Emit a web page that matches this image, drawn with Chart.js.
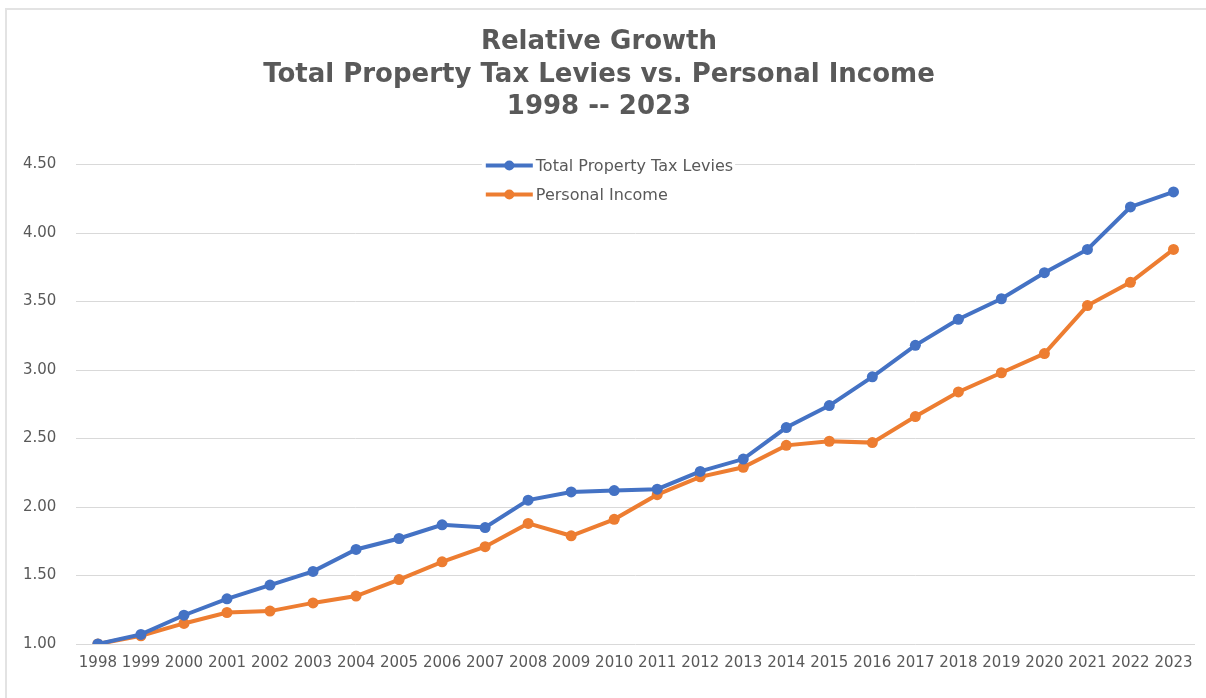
<!DOCTYPE html>
<html>
<head>
<meta charset="utf-8">
<script src="https://cdn.jsdelivr.net/npm/chart.js@4.4.1/dist/chart.umd.min.js"></script>
<style>
  html, body { margin: 0; padding: 0; background: #fff; overflow: hidden; }
  #frame { position: absolute; left: 5px; top: 8px; width: 1300px; height: 800px; border-left: 2px solid #e3e3e3; border-top: 2px solid #e3e3e3; }
  #graph { position: absolute; left: 0; top: 0; }
</style>
</head>
<body>
<div id="frame"></div>
<canvas id="graph" width="1206" height="698"></canvas>
<script>
var years = ['1998','1999','2000','2001','2002','2003','2004','2005','2006','2007','2008','2009','2010',
             '2011','2012','2013','2014','2015','2016','2017','2018','2019','2020','2021','2022','2023']
var propertyTax = [1.00,1.07,1.21,1.33,1.43,1.53,1.69,1.77,1.87,1.85,2.05,2.11,2.12,
                   2.13,2.26,2.35,2.58,2.74,2.95,3.18,3.37,3.52,3.71,3.88,4.19,4.30]
var personalIncome = [1.00,1.06,1.15,1.23,1.24,1.30,1.35,1.47,1.60,1.71,1.88,1.79,1.91,
                      2.09,2.22,2.29,2.45,2.48,2.47,2.66,2.84,2.98,3.12,3.47,3.64,3.88]
var yMin = 1.0, yMax = 4.5, yStep = 0.5
var titleLines = ['Relative Growth', 'Total Property Tax Levies vs. Personal Income', '1998 -- 2023']

var blue = '#4472C4'
var orange = '#ED7D31'
var gray = '#595959'

// legend drawn as a small vertical box inside the plot, line + dot like the Excel one
var boxLegend = {
  id: 'boxLegend',
  afterDatasetsDraw(chart) {
    var ctx = chart.ctx
    var area = chart.chartArea
    var x = area.left + (area.right - area.left) * 0.366
    var y = area.top + 1
    ctx.save()
    ctx.font = '16px "DejaVu Sans"'
    ctx.textBaseline = 'middle'
    chart.data.datasets.forEach(function(ds, i) {
      var rowY = y + i * 29
      var w = ctx.measureText(ds.label).width
      ctx.fillStyle = '#fff'
      ctx.fillRect(x - 4, rowY - 9, 56 + w, 18)
      ctx.strokeStyle = ds.borderColor
      ctx.lineWidth = 4
      ctx.beginPath()
      ctx.moveTo(x, rowY)
      ctx.lineTo(x + 47, rowY)
      ctx.stroke()
      ctx.fillStyle = ds.borderColor
      ctx.beginPath()
      ctx.arc(x + 23.5, rowY, 5, 0, Math.PI * 2)
      ctx.fill()
      ctx.fillStyle = gray
      ctx.fillText(ds.label, x + 50, rowY + 1)
    })
    ctx.restore()
  }
}

new Chart(document.getElementById('graph'), {
  type: 'line',
  data: {
    labels: years,
    datasets: [{
      label: 'Total Property Tax Levies',
      data: propertyTax,
      borderColor: blue,
      backgroundColor: blue,
      borderWidth: 4,
      pointRadius: 5.5,
      pointBorderWidth: 0,
      tension: 0
    }, {
      label: 'Personal Income',
      data: personalIncome,
      borderColor: orange,
      backgroundColor: orange,
      borderWidth: 4,
      pointRadius: 5.5,
      pointBorderWidth: 0,
      tension: 0
    }]
  },
  options: {
    responsive: false,
    animation: false,
    layout: { padding: { left: 3, right: 11, top: 0, bottom: 24 } },
    plugins: {
      legend: { display: false },
      tooltip: { enabled: false },
      title: {
        display: true,
        text: titleLines,
        color: gray,
        font: { family: '"DejaVu Sans"', size: 26, weight: 'bold', lineHeight: 1.25 },
        padding: { top: 26, bottom: 41 }
      }
    },
    scales: {
      x: {
        offset: true,
        grid: { display: false },
        border: { display: false },
        ticks: { color: gray, font: { family: '"DejaVu Sans"', size: 15 }, autoSkip: false, maxRotation: 0, padding: 2 }
      },
      y: {
        min: yMin,
        max: yMax,
        grid: { color: '#d9d9d9', lineWidth: 1, drawTicks: false },
        border: { display: false },
        ticks: {
          stepSize: yStep,
          color: gray,
          font: { family: '"DejaVu Sans"', size: 15 },
          padding: 20,
          callback: function(v) { return v.toFixed(2) }
        }
      }
    }
  },
  plugins: [boxLegend]
})
</script>
</body>
</html>
